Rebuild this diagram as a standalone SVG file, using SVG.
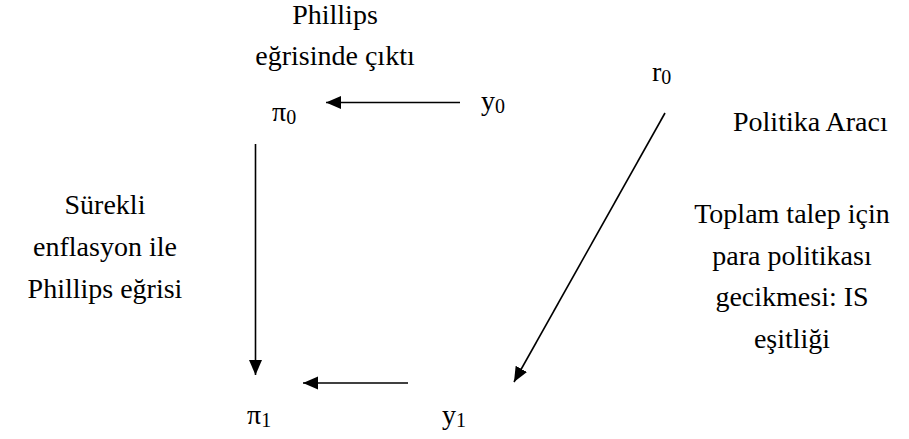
<svg xmlns="http://www.w3.org/2000/svg" width="909" height="439" viewBox="0 0 909 439">
<style>
.t{font-family:'Liberation Serif','Times New Roman',Times,serif;font-size:28px;fill:#000}
.c{text-anchor:middle}
.sub{font-size:20px}
.ln{stroke:#000;stroke-width:1.6;fill:none}
</style>
<defs>
<marker id="ah" markerUnits="userSpaceOnUse" markerWidth="16" markerHeight="14" refX="15" refY="6.5" orient="auto">
<path d="M0,0 L15,6.5 L0,13 Z" fill="#000"/>
</marker>
</defs>
<rect width="909" height="439" fill="#fff"/>
<g id="connectors">
<line class="ln" x1="460" y1="102.5" x2="326" y2="102.5" marker-end="url(#ah)"/>
<line class="ln" x1="255.5" y1="144" x2="255.5" y2="375" marker-end="url(#ah)"/>
<line class="ln" x1="408" y1="383" x2="303" y2="383" marker-end="url(#ah)"/>
<line class="ln" x1="665" y1="113" x2="514" y2="382" marker-end="url(#ah)"/>
</g>
<g font-family="Liberation Serif, Times New Roman, serif">
<g id="label-phillips-output">
<text class="t c" x="335" y="24">Phillips</text>
<text class="t c" x="335" y="65">eğrisinde çıktı</text>
</g>
<g id="node-pi0"><text class="t" x="272" y="121">π<tspan class="sub" dy="3">0</tspan></text></g>
<g id="node-y0"><text class="t" x="481" y="110">y<tspan class="sub" dy="3">0</tspan></text></g>
<g id="node-r0"><text class="t" x="652" y="81">r<tspan class="sub" dy="3">0</tspan></text></g>
<g id="node-pi1"><text class="t" x="247" y="424">π<tspan class="sub" dy="3">1</tspan></text></g>
<g id="node-y1"><text class="t" x="442" y="424">y<tspan class="sub" dy="3">1</tspan></text></g>
<g id="label-policy"><text class="t" x="733" y="131">Politika Aracı</text></g>
<g id="label-phillips-curve">
<text class="t c" x="105" y="214">Sürekli</text>
<text class="t c" x="105" y="256">enflasyon ile</text>
<text class="t c" x="105" y="298">Phillips eğrisi</text>
</g>
<g id="label-is">
<text class="t c" x="792" y="223">Toplam talep için</text>
<text class="t c" x="792" y="265">para politikası</text>
<text class="t c" x="792" y="306">gecikmesi: IS</text>
<text class="t c" x="792" y="348">eşitliği</text>
</g>
</g>
</svg>
